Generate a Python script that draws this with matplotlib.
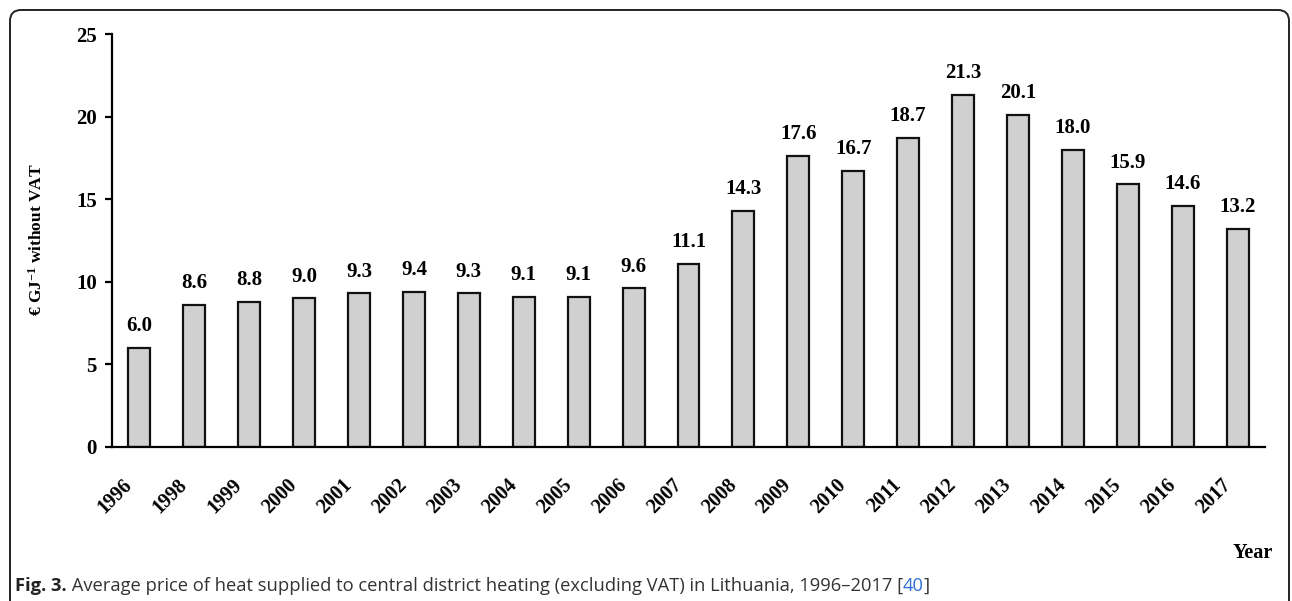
import matplotlib
matplotlib.use("Agg")
import matplotlib.pyplot as plt
from matplotlib.patches import FancyBboxPatch
from matplotlib.transforms import IdentityTransform, ScaledTranslation

years = ["1996", "1998", "1999", "2000", "2001", "2002", "2003", "2004", "2005", "2006",
         "2007", "2008", "2009", "2010", "2011", "2012", "2013", "2014", "2015", "2016", "2017"]
prices = [6.0, 8.6, 8.8, 9.0, 9.3, 9.4, 9.3, 9.1, 9.1, 9.6,
          11.1, 14.3, 17.6, 16.7, 18.7, 21.3, 20.1, 18.0, 15.9, 14.6, 13.2]
yticks = [0, 5, 10, 15, 20, 25]

plt.rcParams['font.family'] = ['Liberation Serif', 'DejaVu Serif']
plt.rcParams['mathtext.fontset'] = 'custom'
plt.rcParams['mathtext.rm'] = 'Liberation Serif:bold'
plt.rcParams['mathtext.bf'] = 'Liberation Serif:bold'
plt.rcParams['mathtext.it'] = 'Liberation Serif:bold'

W, H = 1292, 601
fig = plt.figure(figsize=(W / 100, H / 100), dpi=100)

# rounded frame (pixel coordinates, origin bottom-left)
frame = FancyBboxPatch((10, -40), 1279, (H - 10) + 40,
                       boxstyle="round,pad=0,rounding_size=11",
                       transform=IdentityTransform(), facecolor='none',
                       edgecolor='#222222', linewidth=1.4)
fig.patches.append(frame)

ax = fig.add_axes([112 / W, 1 - 447 / H, (1265 - 112) / W, (447 - 34) / H])
x = list(range(len(years)))
ax.bar(x, prices, width=0.4, color='#D0D0D0', edgecolor='#111111', linewidth=1.6, zorder=2)
for xi, v in zip(x, prices):
    ax.annotate(f"{v:.1f}", (xi, v), xytext=(0, 8.5), textcoords='offset points',
                ha='center', va='bottom', fontsize=15, fontweight='bold')

ax.set_xlim(-0.5, len(years) - 0.5)
ax.set_ylim(0, 25)
ax.set_yticks(yticks)
ax.set_yticklabels([str(t) for t in yticks], fontsize=15, fontweight='bold')
ax.set_xticks(x)
ax.set_xticklabels(years, rotation=45, ha='right', va='top', rotation_mode='anchor',
                   fontsize=14.5, fontweight='bold')
ax.tick_params(axis='x', length=0, pad=20)
shift = ScaledTranslation(-17 / 100, 0, fig.dpi_scale_trans)
for lab in ax.get_xticklabels():
    lab.set_transform(lab.get_transform() + shift)
ax.tick_params(axis='y', length=5, width=1.6, pad=6, direction='out')
for s in ['top', 'right']:
    ax.spines[s].set_visible(False)
for s in ['left', 'bottom']:
    ax.spines[s].set_linewidth(1.6)

fig.text(37 / W, 1 - 240 / H, r"€ GJ$^{-1}$ without VAT", rotation=90, ha='center', va='center',
         fontsize=12.5, fontweight='bold')
fig.text(1253 / W, 1 - 553 / H, "Year", ha='center', va='center', fontsize=14.5, fontweight='bold')

cap_font = ['Open Sans', 'DejaVu Sans']
cs = 13.2
t1 = fig.text(15 / W, 1 - 591 / H, "Fig. 3.", ha='left', va='baseline', fontsize=cs,
              fontweight='bold', family=cap_font, color='#222222')
t2 = fig.text(0, 0, " Average price of heat supplied to central district heating (excluding VAT) in Lithuania, 1996\u20132017 [",
              fontsize=cs, family=cap_font, color='#333333', va='baseline')
t3 = fig.text(0, 0, "40", fontsize=cs, family=cap_font, color='#2f6fd6', va='baseline')
t4 = fig.text(0, 0, "]", fontsize=cs, family=cap_font, color='#333333', va='baseline')

fig.canvas.draw()
r = fig.canvas.get_renderer()
prev = t1
for t in (t2, t3, t4):
    bb = prev.get_window_extent(r)
    t.set_position((bb.x1 / W, 1 - 591 / H))
    fig.canvas.draw()
    prev = t

fig.savefig("out.png", dpi=100)
